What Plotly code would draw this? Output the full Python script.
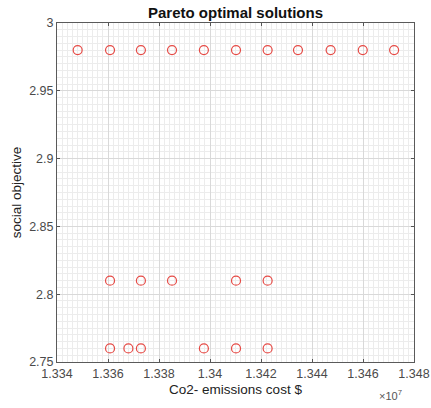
import plotly.graph_objects as go

# Pareto optimal solutions (cost in $, social objective)
cost_top = [13348100, 13360800, 13372900, 13385100, 13397600, 13410200,
            13422600, 13434500, 13447300, 13459900, 13472200]
social_top = [2.98] * 11
cost_mid = [13360800, 13372900, 13385100, 13410200, 13422600]
social_mid = [2.81] * 5
cost_low = [13360800, 13368000, 13372900, 13397600, 13410200, 13422600]
social_low = [2.76] * 6

cost = cost_top + cost_mid + cost_low
social = social_top + social_mid + social_low

x_ticks = [1.334, 1.336, 1.338, 1.340, 1.342, 1.344, 1.346, 1.348]
x_tick_text = ["1.334", "1.336", "1.338", "1.34", "1.342", "1.344", "1.346", "1.348"]
y_ticks = [2.75, 2.8, 2.85, 2.9, 2.95, 3.0]
y_tick_text = ["2.75", "2.8", "2.85", "2.9", "2.95", "3"]

FONT = "Liberation Sans, Arial, sans-serif"

fig = go.Figure()
fig.add_trace(go.Scatter(
    x=cost, y=social, mode="markers",
    marker=dict(symbol="circle-open", size=9, color="#e64a45", line=dict(width=1.2)),
    showlegend=False,
))

axis_font = dict(family=FONT, size=12.5, color="#4a4a4a")
fig.update_layout(
    width=431, height=408,
    margin=dict(l=57, r=17, t=23, b=46, autoexpand=False),
    paper_bgcolor="white", plot_bgcolor="white",
    title=dict(text="<b>Pareto optimal solutions</b>", x=0.5465, xanchor="center",
               y=0.968, yanchor="middle",
               font=dict(family=FONT, size=15, color="#111")),
    xaxis=dict(
        range=[13340000, 13480000], automargin=False,
        tickvals=[v * 1e7 for v in x_ticks], ticktext=x_tick_text,
        ticks="inside", ticklen=3, tickcolor="#555",
        showline=True, linecolor="#5a5a5a", linewidth=1, mirror="ticks",
        showgrid=True, gridcolor="#d9d9d9", gridwidth=1,
        minor=dict(dtick=2000, showgrid=True, gridcolor="#ececec", gridwidth=1),
        zeroline=False, tickfont=axis_font,
        title=dict(text="Co2- emissions cost $", font=dict(family=FONT, size=13.5, color="#222"), standoff=4),
    ),
    yaxis=dict(
        range=[2.75, 3.0], automargin=False,
        tickvals=y_ticks, ticktext=y_tick_text,
        ticks="inside", ticklen=3, tickcolor="#555",
        showline=True, linecolor="#5a5a5a", linewidth=1, mirror="ticks",
        showgrid=True, gridcolor="#d9d9d9", gridwidth=1,
        minor=dict(dtick=0.005, showgrid=True, gridcolor="#ececec", gridwidth=1),
        zeroline=False, tickfont=axis_font,
        title=dict(text="social objective", font=dict(family=FONT, size=13.5, color="#222"), standoff=4),
    ),
    annotations=[dict(
        text="×10<sup>7</sup>", xref="paper", yref="paper", x=0.935, y=-0.097,
        xanchor="center", yanchor="middle", showarrow=False,
        font=dict(family=FONT, size=11, color="#555"),
    )],
)

fig.write_html("out.html", config={"displayModeBar": False},
               post_script="document.body.style.margin='0';")
